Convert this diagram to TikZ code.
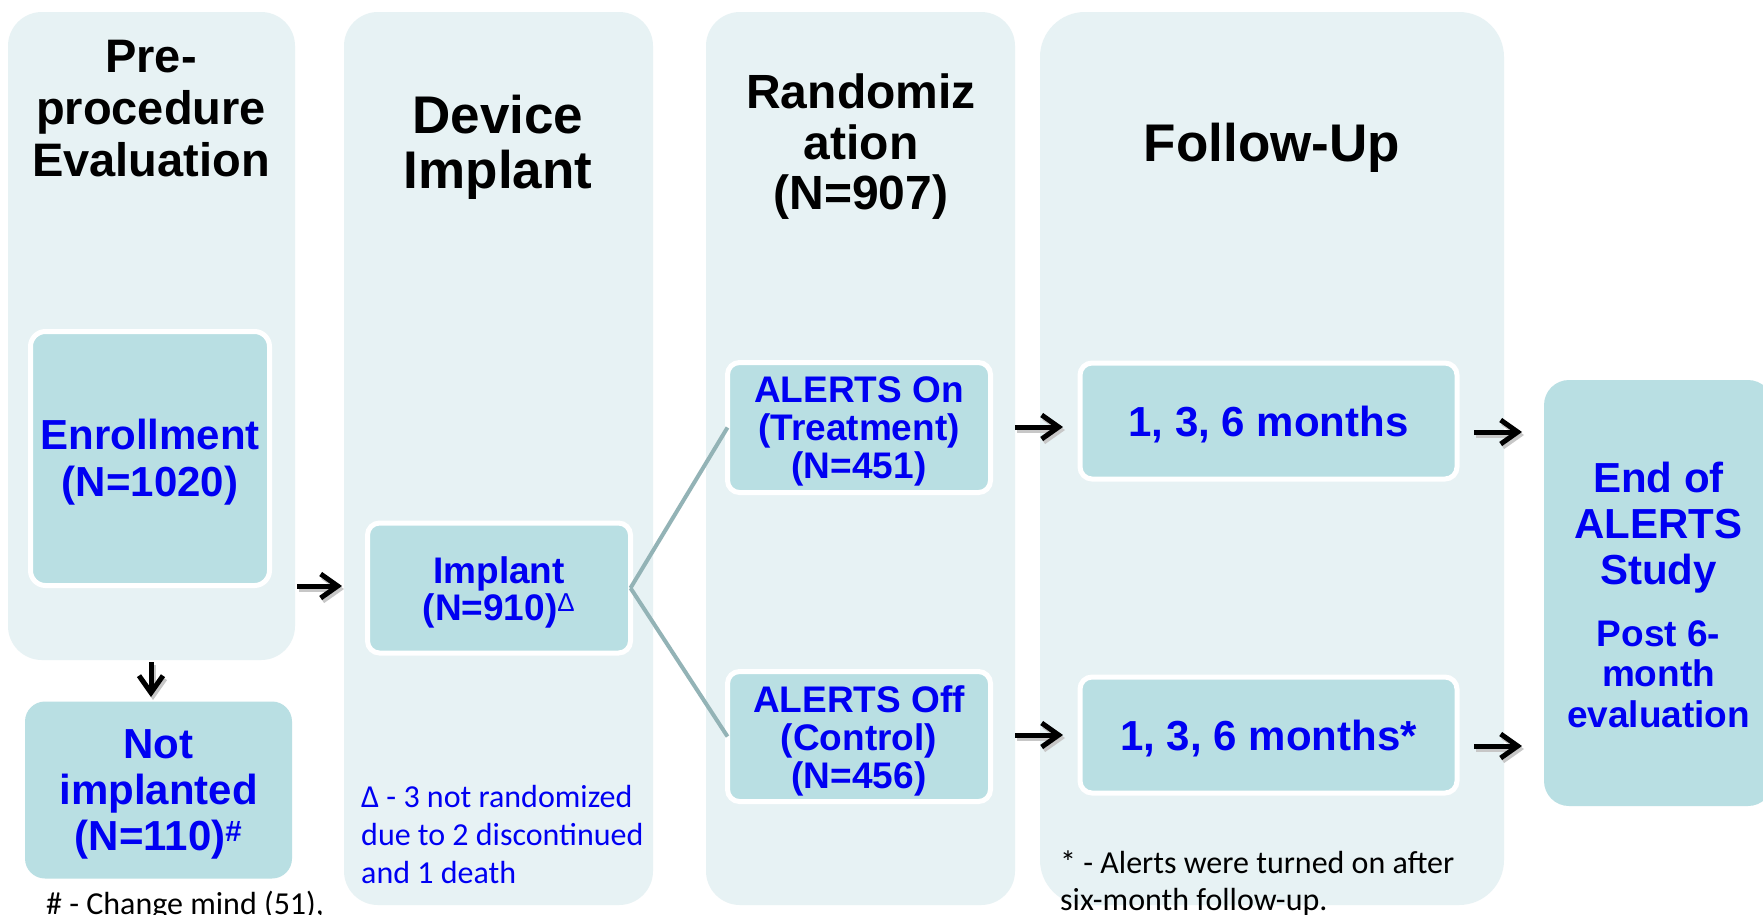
\documentclass[tikz,border=0pt]{standalone}
\usepackage{fontspec}
\setmainfont{Liberation Sans}
\newfontfamily\calib{Carlito}
\usetikzlibrary{arrows.meta}
\definecolor{panel}{HTML}{E7F2F4}
\definecolor{boxc}{HTML}{B9DFE3}
\definecolor{connc}{HTML}{93B3B6}
\definecolor{tblue}{HTML}{0000F2}
\tikzset{
  panelbox/.style={fill=panel, rounded corners=#1, inner sep=0pt, outer sep=0pt},
  panelbox/.default=34pt,
  innerbox/.style={fill=boxc, draw=white, line width=5pt, rounded corners=12pt, inner sep=0pt, outer sep=0pt},
  plainbox/.style={fill=boxc, rounded corners=#1, inner sep=0pt, outer sep=0pt},
  boxtext/.style={inner sep=0pt, align=center, text=tblue, yshift=-4pt},
  title/.style={inner sep=0pt, align=center},
  note/.style={inner sep=0pt, anchor=base west},
  arr/.style={line width=5pt, -{Straight Barb[length=17pt,width=24pt]}},
  connline/.style={draw=connc, line width=4pt}
}
\begin{document}
\begin{tikzpicture}[x=1pt,y=-1pt]
\fill[white] (0,0) rectangle (1763,914);
\clip (0,0) rectangle (1763,914);
% panels
\node[panelbox, minimum width=287pt, minimum height=648pt] (p1) at (151.5,336) {};
\node[panelbox, minimum width=309pt, minimum height=893pt] (p2) at (498.5,458.5) {};
\node[panelbox, minimum width=309pt, minimum height=893pt] (p3) at (860.5,458.5) {};
\node[panelbox=45pt, minimum width=464pt, minimum height=893pt] (p4) at (1272,458.5) {};
% titles
\node[title, font=\bfseries\fontsize{47}{52}\selectfont] (t1) at (151,109) {Pre-\\procedure\\Evaluation};
\node[title, font=\bfseries\fontsize{53}{55}\selectfont] (t2) at (498,147.5) {Device\\Implant};
\node[title, font=\bfseries\fontsize{48}{50.5}\selectfont] (t3) at (861,147) {Randomiz\\ation\\(N=907)};
\node[title, font=\bfseries\fontsize{53}{55}\selectfont] (t4) at (1272,147.5) {Follow-Up};
% boxes
\node[innerbox, rounded corners=15pt, minimum width=239pt, minimum height=254pt] (enroll) at (150,458.5) {};
\node[boxtext, font=\bfseries\fontsize{42}{47}\selectfont] (enrollT) at (enroll.center) {Enrollment\\(N=1020)};
\node[plainbox=20pt, minimum width=267pt, minimum height=177pt] (notimp) at (158.5,790) {};
\node[boxtext, font=\bfseries\fontsize{42}{46}\selectfont] (notimpT) at (notimp.center) {Not\\implanted\\(N=110)\textsuperscript{\#}};
\node[innerbox, minimum width=263pt, minimum height=130pt] (implant) at (499,588) {};
\node[boxtext, font=\bfseries\fontsize{37}{37}\selectfont] (implantT) at (implant.center) {Implant\\(N=910)\textsuperscript{\mdseries Δ}};
\node[innerbox, minimum width=263pt, minimum height=130pt] (on) at (859,427.5) {};
\node[boxtext, font=\bfseries\fontsize{37}{38}\selectfont] (onT) at (on.center) {ALERTS On\\(Treatment)\\(N=451)};
\node[innerbox, minimum width=263pt, minimum height=130pt] (off) at (859,736.5) {};
\node[boxtext, font=\bfseries\fontsize{37}{38}\selectfont] (offT) at (off.center) {ALERTS Off\\(Control)\\(N=456)};
\node[innerbox, minimum width=377pt, minimum height=116pt] (m1) at (1268.5,421) {};
\node[boxtext, font=\bfseries\fontsize{42}{46}\selectfont] (m1T) at (m1.center) {1, 3, 6 months};
\node[innerbox, minimum width=377pt, minimum height=116pt] (m2) at (1268.5,735) {};
\node[boxtext, font=\bfseries\fontsize{42}{46}\selectfont] (m2T) at (m2.center) {1, 3, 6 months*};
\node[plainbox=25pt, minimum width=229pt, minimum height=426pt] (endb) at (1658.5,593) {};
\node[boxtext, font=\bfseries\fontsize{42}{46}\selectfont] (endt) at (1658.5,524) {End of\\ALERTS\\Study};
\node[boxtext, font=\bfseries\fontsize{37}{40.5}\selectfont] (postt) at (1658.5,670) {Post 6-\\month\\evaluation};
% notes
\node[note, text=tblue, font=\calib\fontsize{32}{38}\selectfont] (dn1) at (361,807) {Δ - 3 not randomized};
\node[note, text=tblue, font=\calib\fontsize{32}{38}\selectfont] (dn2) at (361,845) {due to 2 discontinued};
\node[note, text=tblue, font=\calib\fontsize{32}{38}\selectfont] (dn3) at (361,883.5) {and 1 death};
\node[note, font=\calib\fontsize{32}{38}\selectfont] (hn1) at (46,914) {\# - Change mind (51),};
\node[note, font=\calib\fontsize{32}{38}\selectfont] (fn1) at (1060,873.5) {* - Alerts were turned on after};
\node[note, font=\calib\fontsize{32}{38}\selectfont] (fn2) at (1060,910.5) {six-month follow-up.};
% connectors
\draw[connline] (implant.east) -- (on.west);
\draw[connline] (implant.east) -- (off.west);
% arrows
\coordinate (d0s) at (151,662); \coordinate (d0e) at (151,697);
\coordinate (a0s) at (297,586); \coordinate (a0e) at (342,586);
\coordinate (a1s) at (1015,427); \coordinate (a1e) at (1063,427);
\coordinate (a2s) at (1015,735); \coordinate (a2e) at (1063,735);
\coordinate (e1s) at (1474,432); \coordinate (e1e) at (1522,432);
\coordinate (e2s) at (1474,746); \coordinate (e2e) at (1522,746);
\foreach \s/\e in {d0s/d0e,a0s/a0e,a1s/a1e,a2s/a2e,e1s/e1e,e2s/e2e}{
  \draw[arr, draw=black!22] ([xshift=2pt,yshift=-3pt]\s) -- ([xshift=2pt,yshift=-3pt]\e);
  \draw[arr] (\s) -- (\e);
}
\end{tikzpicture}
\end{document}
